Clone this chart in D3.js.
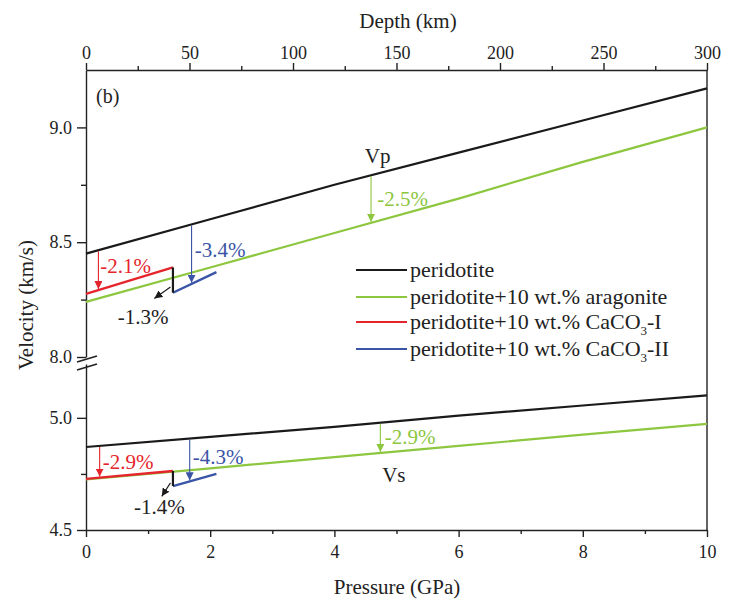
<!DOCTYPE html>
<html>
<head>
<meta charset="utf-8">
<script src="https://cdn.jsdelivr.net/npm/d3@7"></script>
<style>
  body { margin: 0; background: #fff; }
  text { font-family: "Liberation Serif", "Times New Roman", serif; fill: #222; }
</style>
</head>
<body>
<div id="chart"></div>
<script>
// pressure grid (GPa)
var pressure = [0, 2, 4, 6, 8, 10];
var vpPeridotite = [8.45, 8.60, 8.75, 8.89, 9.03, 9.17];
var vpAragonite = [8.24, 8.39, 8.54, 8.69, 8.85, 9.00];
var vsPeridotite = [4.87, 4.915, 4.96, 5.01, 5.055, 5.10];
var vsAragonite = [4.725, 4.775, 4.825, 4.875, 4.925, 4.973];

// CaCO3 phases (short segments)
var pCaco3I = [0, 1.4];
var vpCaco3I = [8.275, 8.39];
var vsCaco3I = [4.728, 4.763];
var pCaco3II = [1.4, 2.1];
var vpCaco3II = [8.28, 8.37];
var vsCaco3II = [4.696, 4.75];

var pressureTicks = [0, 2, 4, 6, 8, 10];
var pressureMinor = [1, 3, 5, 7, 9];
var depthTicks = [0, 50, 100, 150, 200, 250, 300];
var depthMinor = [25, 75, 125, 175, 225, 275];
var vpTicks = [8.0, 8.5, 9.0];
var vpMinor = [8.25, 8.75];
var vsTicks = [4.5, 5.0];
var vsMinor = [4.75];

var legendLabels = ["peridotite", "peridotite+10 wt.% aragonite", "peridotite+10 wt.% CaCO|3|-I", "peridotite+10 wt.% CaCO|3|-II"];

var colors = { black: "#1a1a1a", green: "#8dc63f", red: "#e5252c", blue: "#3a54a6" };

var width = 739, height = 605;
var svg = d3.select("#chart").append("svg")
    .attr("width", width)
    .attr("height", height);

var x = d3.scaleLinear().domain([0, 10]).range([86, 707]);
var xDepth = d3.scaleLinear().domain([0, 300]).range([86, 707]);
var yVp = d3.scaleLinear().domain([8.0, 9.25]).range([357, 70]);
var yVs = d3.scaleLinear().domain([4.5, 5.24]).range([530, 364]);

function pts(ps, vs) { return ps.map(function (p, i) { return [p, vs[i]]; }); }
function valueAt(ps, vs, p) {
    var i = Math.min(d3.bisectRight(ps, p), ps.length - 1);
    if (i < 1) i = 1;
    var t = (p - ps[i - 1]) / (ps[i] - ps[i - 1]);
    return vs[i - 1] + t * (vs[i] - vs[i - 1]);
}

// axes
svg.append("g").attr("transform", "translate(0,530)")
    .call(d3.axisBottom(x).tickValues(pressureTicks).tickSize(7).tickSizeOuter(0).tickPadding(8).tickFormat(d3.format("d")));
svg.append("g").attr("transform", "translate(0,530)")
    .call(d3.axisBottom(x).tickValues(pressureMinor).tickSize(4).tickSizeOuter(0).tickFormat(""))
    .select(".domain").remove();

svg.append("g").attr("transform", "translate(0,70)")
    .call(d3.axisTop(xDepth).tickValues(depthTicks).tickSize(7).tickSizeOuter(0).tickPadding(4).tickFormat(d3.format("d")));
svg.append("g").attr("transform", "translate(0,70)")
    .call(d3.axisTop(xDepth).tickValues(depthMinor).tickSize(4).tickSizeOuter(0).tickFormat(""))
    .select(".domain").remove();

svg.append("g").attr("transform", "translate(86,0)")
    .call(d3.axisLeft(yVp).tickValues(vpTicks).tickSize(9).tickSizeOuter(0).tickPadding(5).tickFormat(d3.format(".1f")));
svg.append("g").attr("transform", "translate(86,0)")
    .call(d3.axisLeft(yVp).tickValues(vpMinor).tickSize(5).tickSizeOuter(0).tickFormat(""))
    .select(".domain").remove();
svg.append("g").attr("transform", "translate(86,0)")
    .call(d3.axisLeft(yVs).tickValues(vsTicks).tickSize(9).tickSizeOuter(0).tickPadding(5).tickFormat(d3.format(".1f")));
svg.append("g").attr("transform", "translate(86,0)")
    .call(d3.axisLeft(yVs).tickValues(vsMinor).tickSize(5).tickSizeOuter(0).tickFormat(""))
    .select(".domain").remove();

// right frame
svg.append("line")
    .attr("x1", x(10)).attr("x2", x(10))
    .attr("y1", yVp.range()[1]).attr("y2", yVs.range()[0])
    .attr("stroke", "#222").attr("stroke-width", 1.4);

svg.selectAll(".domain").attr("stroke", "#222").attr("stroke-width", 1.4);
svg.selectAll(".tick line").attr("stroke", "#222").attr("stroke-width", 1.4);
svg.selectAll(".tick text").attr("font-size", 18).attr("fill", "#222")
    .style("font-family", "'Liberation Serif', 'Times New Roman', serif");

// axis break marks
[yVp(8.0) + 2, yVs.range()[1] + 3].forEach(function (yy) {
    svg.append("line")
        .attr("x1", x(0) - 9).attr("y1", yy + 3)
        .attr("x2", x(0) + 11).attr("y2", yy - 3)
        .attr("stroke", "#222").attr("stroke-width", 1.6);
});

// titles
svg.append("text").attr("x", 397).attr("y", 594).attr("text-anchor", "middle")
    .attr("font-size", 21).text("Pressure (GPa)");
svg.append("text").attr("x", 408).attr("y", 28).attr("text-anchor", "middle")
    .attr("font-size", 21).text("Depth (km)");
svg.append("text").attr("transform", "translate(33,305) rotate(-90)").attr("text-anchor", "middle")
    .attr("font-size", 21).text("Velocity (km/s)");
svg.append("text").attr("x", 96).attr("y", 103).attr("font-size", 20).text("(b)");

// lines
var lineVp = d3.line().x(function (d) { return x(d[0]); }).y(function (d) { return yVp(d[1]); });
var lineVs = d3.line().x(function (d) { return x(d[0]); }).y(function (d) { return yVs(d[1]); });

var series = [
    { line: lineVp, data: pts(pressure, vpAragonite), color: colors.green, w: 2.2 },
    { line: lineVp, data: pts(pressure, vpPeridotite), color: colors.black, w: 2.2 },
    { line: lineVp, data: pts(pCaco3I, vpCaco3I), color: colors.red, w: 2.4 },
    { line: lineVp, data: pts(pCaco3II, vpCaco3II), color: colors.blue, w: 2.4 },
    { line: lineVp, data: [[pCaco3I[1], vpCaco3I[1]], [pCaco3II[0], vpCaco3II[0]]], color: colors.black, w: 2.2 },
    { line: lineVs, data: pts(pressure, vsAragonite), color: colors.green, w: 2.2 },
    { line: lineVs, data: pts(pressure, vsPeridotite), color: colors.black, w: 2.2 },
    { line: lineVs, data: pts(pCaco3I, vsCaco3I), color: colors.red, w: 2.4 },
    { line: lineVs, data: pts(pCaco3II, vsCaco3II), color: colors.blue, w: 2.4 },
    { line: lineVs, data: [[pCaco3I[1], vsCaco3I[1]], [pCaco3II[0], vsCaco3II[0]]], color: colors.black, w: 2.2 }
];
series.forEach(function (s) {
    svg.append("path")
        .attr("d", s.line(s.data))
        .attr("fill", "none")
        .attr("stroke", s.color)
        .attr("stroke-width", s.w);
});

// arrow heads
var defs = svg.append("defs");
Object.keys(colors).forEach(function (k) {
    defs.append("marker")
        .attr("id", "arrow-" + k)
        .attr("viewBox", "0 0 10 10")
        .attr("refX", 10).attr("refY", 5)
        .attr("markerWidth", 8).attr("markerHeight", 8)
        .attr("markerUnits", "userSpaceOnUse")
        .attr("orient", "auto")
        .append("path")
        .attr("d", "M0,0 L10,5 L0,10 Z")
        .attr("fill", colors[k]);
});

// vertical arrows from peridotite down to the other curve
var arrows = [
    { y: yVp, p: 0.2, from: [pressure, vpPeridotite], to: [pCaco3I, vpCaco3I], c: "red" },
    { y: yVp, p: 1.7, from: [pressure, vpPeridotite], to: [pCaco3II, vpCaco3II], c: "blue" },
    { y: yVp, p: 4.59, from: [pressure, vpPeridotite], to: [pressure, vpAragonite], c: "green" },
    { y: yVs, p: 0.22, from: [pressure, vsPeridotite], to: [pCaco3I, vsCaco3I], c: "red" },
    { y: yVs, p: 1.67, from: [pressure, vsPeridotite], to: [pCaco3II, vsCaco3II], c: "blue" },
    { y: yVs, p: 4.74, from: [pressure, vsPeridotite], to: [pressure, vsAragonite], c: "green" }
];
arrows.forEach(function (a) {
    svg.append("line")
        .attr("x1", x(a.p)).attr("x2", x(a.p))
        .attr("y1", a.y(valueAt(a.from[0], a.from[1], a.p)) + 1)
        .attr("y2", a.y(valueAt(a.to[0], a.to[1], a.p)) - 1)
        .attr("stroke", colors[a.c]).attr("stroke-width", 1.1)
        .attr("marker-end", "url(#arrow-" + a.c + ")");
});

// diagonal black arrows (phase transition drop)
var diagArrows = [
    { y: yVp, from: [1.36, 8.305], to: [1.1, 8.255] },
    { y: yVs, from: [1.36, 4.71], to: [1.22, 4.65] }
];
diagArrows.forEach(function (a) {
    svg.append("line")
        .attr("x1", x(a.from[0])).attr("y1", a.y(a.from[1]))
        .attr("x2", x(a.to[0])).attr("y2", a.y(a.to[1]))
        .attr("stroke", colors.black).attr("stroke-width", 1.1)
        .attr("marker-end", "url(#arrow-black)");
});

// annotation labels
var labels = [
    { y: yVp, p: 0.23, v: 8.40, t: "-2.1%", c: colors.red, a: "start" },
    { y: yVp, p: 1.75, v: 8.466, t: "-3.4%", c: colors.blue, a: "start" },
    { y: yVp, p: 0.92, v: 8.174, t: "-1.3%", c: "#222", a: "middle" },
    { y: yVp, p: 4.69, v: 8.69, t: "-2.5%", c: colors.green, a: "start" },
    { y: yVp, p: 4.49, v: 8.878, t: "Vp", c: "#222", a: "start" },
    { y: yVs, p: 0.27, v: 4.803, t: "-2.9%", c: colors.red, a: "start" },
    { y: yVs, p: 1.72, v: 4.825, t: "-4.3%", c: colors.blue, a: "start" },
    { y: yVs, p: 1.18, v: 4.603, t: "-1.4%", c: "#222", a: "middle" },
    { y: yVs, p: 4.81, v: 4.915, t: "-2.9%", c: colors.green, a: "start" },
    { y: yVs, p: 4.77, v: 4.745, t: "Vs", c: "#222", a: "start" }
];
labels.forEach(function (l) {
    svg.append("text")
        .attr("x", x(l.p)).attr("y", l.y(l.v))
        .attr("dy", "0.35em")
        .attr("text-anchor", l.a)
        .attr("font-size", 21)
        .style("fill", l.c)
        .text(l.t);
});

// legend
var legendRows = [270, 297, 322, 349];
var legendColors = [colors.black, colors.green, colors.red, colors.blue];
legendLabels.forEach(function (lab, i) {
    var g = svg.append("g").attr("transform", "translate(356," + legendRows[i] + ")");
    g.append("line").attr("x1", 0).attr("x2", 51)
        .attr("stroke", legendColors[i]).attr("stroke-width", 2.2);
    var t = g.append("text").attr("x", 54).attr("dy", "0.33em").attr("font-size", 22);
    lab.split("|").forEach(function (part, j) {
        var sp = t.append("tspan").text(part);
        if (j === 1) sp.attr("font-size", 13).attr("dy", "0.45em");
        if (j === 2) sp.attr("dy", "-0.27em");
    });
});
</script>
</body>
</html>
